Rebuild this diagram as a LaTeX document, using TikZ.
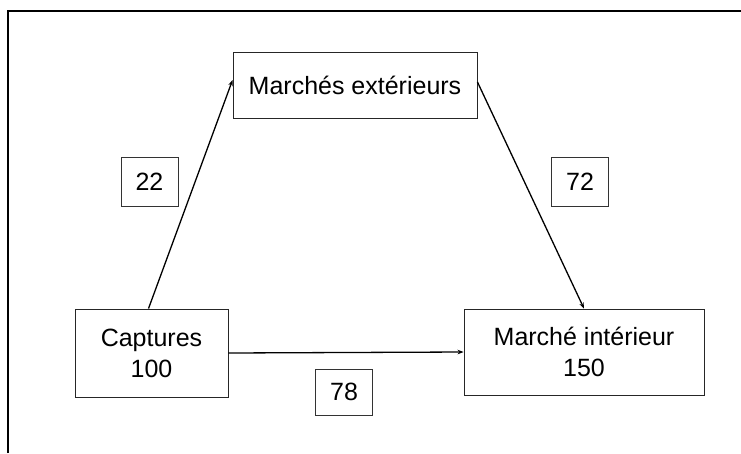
\documentclass[tikz,border=0pt]{standalone}
\usepackage{fontspec}
\setmainfont{Liberation Sans}
\usetikzlibrary{arrows.meta}
\begin{document}
\begin{tikzpicture}[x=1pt,y=-1pt,
  box/.style={draw=black!85,line width=0.9pt,inner sep=0pt,align=center,
    font=\fontsize{25}{31}\selectfont},
  numbox/.style={draw=black!80,line width=0.8pt,inner sep=0pt,
    minimum width=57pt,minimum height=49pt,font=\fontsize{25}{30}\selectfont},
  flow/.style={line width=1.3pt,-{Stealth[length=6pt,width=4.5pt]}}]
\useasboundingbox (0,0) rectangle (741,453);
\draw[line width=2pt] (7.5,453) -- (7.5,11) -- (741,11);
\node[box,minimum width=244pt,minimum height=66pt] (me) at (355,85) {Marchés extérieurs};
\node[box,minimum width=153pt,minimum height=88pt] (cap) at (151.5,353) {Captures\\100};
\node[box,minimum width=240pt,minimum height=86pt] (mi) at (584,352) {Marché intérieur\\150};
\node[numbox] (n22) at (149.5,182) {22};
\node[numbox] (n72) at (580,182) {72};
\node[numbox,minimum height=46pt] (n78) at (344,392) {78};
\draw[flow] ([xshift=-3pt]cap.north) -- ([yshift=5pt]me.west);
\draw[flow] ([yshift=3pt]me.east) -- (mi.north);
\draw[flow] (cap.east) -- (mi.west);
\end{tikzpicture}
\end{document}
